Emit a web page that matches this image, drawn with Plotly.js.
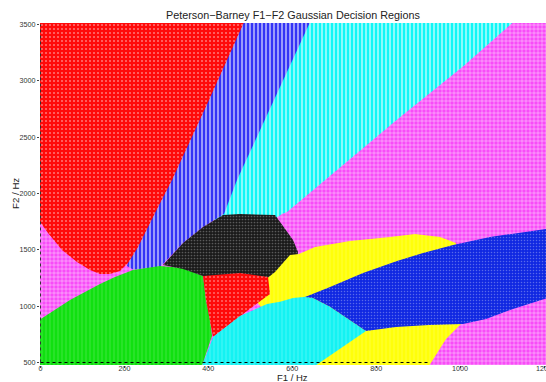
<!DOCTYPE html>
<html>
<head>
<meta charset="utf-8">
<script src="https://cdn.plot.ly/plotly-3.0.1.min.js"></script>
<style>html,body{margin:0;padding:0;background:#fff;}#chart{width:546px;height:382px;}</style>
</head>
<body>
<div id="chart"></div>
<script>
// Axis ticks
const tickF1 = [0, 200, 400, 600, 800, 1000, 1200];
const tickF2 = [500, 1000, 1500, 2000, 2500, 3000, 3500];

// Decision-region boundaries (F1 Hz, F2 Hz), drawn in this order
const regionNames = ['pinkBackground', 'cyanUpper', 'blueStrip', 'redUpper', 'green', 'black', 'yellow', 'redCenter', 'cyanLower', 'blueLower'];

const pinkF1 = [-10, 1220, 1220, -10];
const pinkF2 = [470, 470, 3520, 3520];

const cyanUpperF1 = [570.8, 1126, 1006.2, 854.4, 587.5, 575.5, 547, 415.9];
const cyanUpperF2 = [3520, 3520, 3125.5, 2670.2, 1835.8, 1818, 1747, 1764.8];

const blueStripF1 = [451.6, 642.3, 468.3, 446.8, 437.3, 387.3, 339.6, 291.9, 284.8, 220.4, 206.1, 213.3];
const blueStripF2 = [3520, 3520, 2120, 1898, 1818, 1702.7, 1560.7, 1374.3, 1347.7, 1325.5, 1356.5, 1454];

const redUpperF1 = [-10, 485, 401.6, 313.4, 272.9, 232.4, 208.5, 189.5, 165.6, 141.8, 118, 87, 51.2, 17.9, -2.4, -10];
const redUpperF2 = [3520, 3520, 2830, 2120, 1827, 1525, 1383, 1312, 1285.5, 1285.5, 1321, 1392, 1498.5, 1649.4, 1756, 1760];

const greenF1 = [-10, 34.6, 70.3, 106, 141.8, 177.5, 220.4, 284.8, 339.6, 387.3, 394.4, 404, 408.7, 384.9, -10];
const greenF2 = [859.5, 966, 1054.8, 1125.8, 1196.8, 1258.9, 1321, 1356.5, 1338.8, 1267.8, 1054.8, 877.2, 735.2, 470, 470];

const blackF1 = [291.9, 339.6, 387.3, 434.9, 475.4, 558.9, 577.9, 601.8, 613.7, 611.3, 582.7, 547, 499.3, 387.3, 339.6];
const blackF2 = [1365.4, 1560.7, 1702.7, 1809.2, 1818, 1809.2, 1711.6, 1587.3, 1480.8, 1409.8, 1338.8, 1250, 1258.9, 1267.8, 1329.9];

const yellowF1 = [594.6, 616.1, 654.2, 737.6, 832.9, 892.5, 952.1, 990.2, 1004.5, 1002.1, 966.4, 925.9, 654.2, 594.6, 511.2, 535, 558.9];
const yellowF2 = [1454.2, 1463, 1525.2, 1578.4, 1613.9, 1640.6, 1613.9, 1560.7, 1054.8, 841.7, 708.6, 470, 470, 699.7, 1054.8, 1232.3, 1303.3];

const redCenterF1 = [387.3, 475.4, 542.2, 547, 511.2, 475.4, 442.1, 411.1, 404, 394.4];
const redCenterF2 = [1267.8, 1294.4, 1258.9, 1108, 1010.4, 912.7, 815.1, 726.3, 877.2, 1054.8];

const cyanLowerF1 = [384.9, 411.1, 475.4, 539.8, 570.8, 601.8, 632.7, 649.4, 690, 729.7, 765.5, 775.7, 654.2];
const cyanLowerF2 = [470, 726.3, 912.7, 1019.2, 1039.7, 1072.5, 1084, 1072.5, 995.3, 895, 806.2, 779.6, 470];

const blueLowerF1 = [630.4, 690, 768.6, 849.6, 911.6, 983.1, 1071.2, 1149.9, 1220, 1220, 1126, 1061.7, 1006.9, 925.9, 847.2, 775.7, 765.5, 729.7, 690, 649.4];
const blueLowerF2 = [1081.4, 1170.1, 1294.4, 1400.9, 1471.9, 1542.9, 1613.9, 1658.3, 1693.8, 1085, 974.9, 886.1, 841.7, 832.9, 815.1, 779.6, 806.2, 895, 995.3, 1072.5];

const regionF1 = [pinkF1, cyanUpperF1, blueStripF1, redUpperF1, greenF1, blackF1, yellowF1, redCenterF1, cyanLowerF1, blueLowerF1];
const regionF2 = [pinkF2, cyanUpperF2, blueStripF2, redUpperF2, greenF2, blackF2, yellowF2, redCenterF2, cyanLowerF2, blueLowerF2];

// Styles
const regionColors = ['#f84cf8', '#10f6f6', '#3434f6', '#ff0a0a', '#10e010', '#1a1a1a', '#ffff0a', '#ff0a0a', '#14f2f2', '#1028e2'];
const regionPatterns = [
  {shape: '+', size: 4, solidity: 0.2, fgopacity: 0.9},
  {shape: '|', size: 4, solidity: 0.3, fgopacity: 0.85},
  {shape: '|', size: 4, solidity: 0.3, fgopacity: 0.85},
  {shape: '.', size: 4, solidity: 0.2, fgopacity: 0.45},
  {shape: '|', size: 4, solidity: 0.2, fgopacity: 0.25},
  {shape: '.', size: 3, solidity: 0.25, fgopacity: 0.5},
  {shape: '|', size: 4, solidity: 0.2, fgopacity: 0.25},
  {shape: '.', size: 4, solidity: 0.2, fgopacity: 0.4},
  {shape: '|', size: 4, solidity: 0.2, fgopacity: 0.3},
  {shape: '.', size: 3, solidity: 0.2, fgopacity: 0.3}
];
const patternFg = ['#ffffff', '#ffffff', '#ffffff', '#ffffff', '#ffffff', '#9a9a9a', '#ffffff', '#ffffff', '#ffffff', '#ffffff'];

const traces = regionNames.map((name, i) => ({
  type: 'scatter',
  mode: 'lines',
  name: name,
  x: regionF1[i],
  y: regionF2[i],
  fill: 'toself',
  fillcolor: regionColors[i],
  fillpattern: Object.assign({bgcolor: regionColors[i], fgcolor: patternFg[i]}, regionPatterns[i]),
  line: {width: 0, color: regionColors[i]},
  hoverinfo: 'skip',
  showlegend: false
}));

const fontFam = 'Liberation Sans, Arial, Helvetica, sans-serif';

const layout = {
  width: 546,
  height: 382,
  margin: {l: 40, r: 0, t: 23, b: 17},
  paper_bgcolor: '#ffffff',
  plot_bgcolor: '#ffffff',
  showlegend: false,
  font: {family: fontFam, color: '#222'},
  title: {
    text: 'Peterson\u2212Barney F1\u2212F2 Gaussian Decision Regions',
    font: {family: fontFam, size: 10.8, color: '#222'},
    x: 0.5366, xanchor: 'center',
    y: 0.9607, yanchor: 'middle'
  },
  xaxis: {
    range: [-1.19, 1204.7],
    tickvals: tickF1,
    ticktext: tickF1.map(String),
    ticks: 'outside', ticklen: 2, tickcolor: '#444',
    ticklabelstandoff: -6,
    ticklabeloverflow: 'allow',
    tickfont: {family: fontFam, size: 7.2, color: '#333'},
    showgrid: false, zeroline: false, showline: false
  },
  yaxis: {
    range: [477.7, 3513.3],
    tickvals: tickF2,
    ticktext: tickF2.map(String),
    ticks: 'outside', ticklen: 2, tickcolor: '#444',
    tickfont: {family: fontFam, size: 7.2, color: '#333'},
    showgrid: false, zeroline: false, showline: false
  },
  annotations: [
    {text: 'F1 / Hz', xref: 'paper', yref: 'paper', x: 0.499, y: -0.0365, xanchor: 'center', yanchor: 'middle',
     showarrow: false, borderpad: 0, font: {family: fontFam, size: 9.5, color: '#222'}},
    {text: 'F2 / Hz', xref: 'paper', yref: 'paper', x: -0.0494, y: 0.5, xanchor: 'center', yanchor: 'middle',
     textangle: -90, showarrow: false, font: {family: fontFam, size: 9.7, color: '#222'}}
  ],
  shapes: [
    {type: 'line', xref: 'x', yref: 'y', x0: 0, x1: 925, y0: 500, y1: 500, line: {color: '#000', width: 1, dash: 'dot'}},
    {type: 'line', xref: 'x', yref: 'y', x0: 0, x1: 0, y0: 500, y1: 3500, line: {color: '#333', width: 1, dash: 'dot'}}
  ]
};

Plotly.newPlot('chart', traces, layout, {displayModeBar: false, staticPlot: true});
</script>
</body>
</html>
